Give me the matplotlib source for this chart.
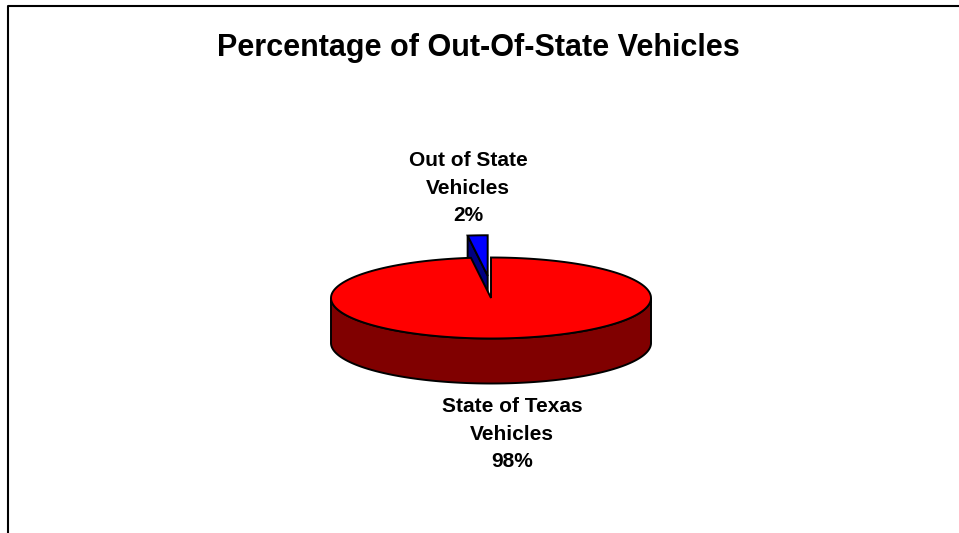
import numpy as np
import matplotlib.pyplot as plt
from matplotlib.patches import Polygon

plt.rcParams['font.family'] = ['Liberation Sans', 'DejaVu Sans']

# datos del grafico
etiquetas = ['State of Texas\nVehicles', 'Out of State\nVehicles']
valores = [98, 2]
colores_top = ['#FF0000', '#0000FF']
colores_lado = ['#800000', '#000080']
titulo = 'Percentage of Out-Of-State Vehicles'

# geometria del pastel 3D (en pixeles)
cx, cy = 491, 298
a, b = 160, 40.5
prof = 45
lw = 1.4


def punto(t, dx=0, dy=0, z=0):
    r = np.radians(t)
    return (cx + dx + a * np.cos(r), cy + dy - b * np.sin(r) + z)


def arco(t0, t1, dx=0, dy=0, z=0, n=200):
    return [punto(t, dx, dy, z) for t in np.linspace(t0, t1, n)]


fig = plt.figure(figsize=(9.59, 5.33), dpi=100)
ax = fig.add_axes([0, 0, 1, 1])
ax.set_xlim(0, 959)
ax.set_ylim(533, 0)
ax.axis('off')

# marco
ax.plot([8, 8, 959], [533, 6, 6], color='black', lw=1.5, solid_capstyle='projecting')

total = sum(valores)
ang_azul = 360 * valores[1] / total
t0_azul, t1_azul = 90, 90 + ang_azul

# rebanada azul separada
tm = np.radians((t0_azul + t1_azul) / 2)
e = 0.55
dx, dy = e * a * np.cos(tm) * 0.6, -e * b * np.sin(tm)
ap = (cx + dx, cy + dy)
rim = punto(t1_azul, dx, dy)
cara = [ap, rim, (rim[0], rim[1] + prof), (ap[0], ap[1] + prof)]
ax.add_patch(Polygon(cara, closed=True, fc=colores_lado[1], ec='black', lw=lw))
ax.add_patch(Polygon([ap] + arco(t0_azul, t1_azul, dx, dy), closed=True,
                     fc=colores_top[1], ec='black', lw=lw))

# rebanada roja
lado = arco(180, 360) + arco(360, 180, z=prof)
ax.add_patch(Polygon(lado, closed=True, fc=colores_lado[0], ec='black', lw=lw))
ax.add_patch(Polygon([(cx, cy)] + arco(t1_azul, 450), closed=True,
                     fc=colores_top[0], ec='black', lw=lw))

# textos
ax.text(478, 56, titulo, ha='center', va='baseline', fontsize=22, fontweight='bold')
ax.text(468, 188, f'{etiquetas[1]}\n{valores[1]:.0f}%', ha='center', va='center',
        fontsize=15, fontweight='bold', linespacing=1.55)
ax.text(512, 434, f'{etiquetas[0]}\n{valores[0]:.0f}%', ha='center', va='center',
        fontsize=15, fontweight='bold', linespacing=1.55)

plt.savefig('out.png', dpi=100)
